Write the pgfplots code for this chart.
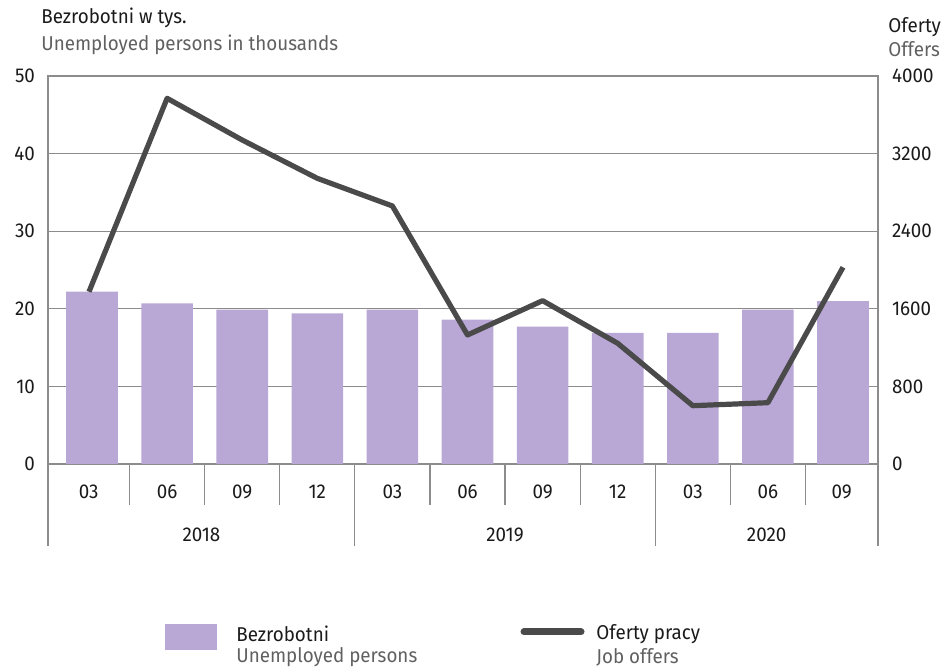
\documentclass[border=0pt]{standalone}
\usepackage{pgfplots}
\pgfplotsset{compat=1.18}
\usepackage{fontspec}
\setmainfont{Fira Sans}[FakeStretch=0.94]
\definecolor{barc}{HTML}{B9A7D5}
\definecolor{linec}{HTML}{4A4A4A}
\definecolor{axc}{HTML}{8C8C8C}
\definecolor{txt}{HTML}{1A1A1A}
\definecolor{sub}{HTML}{606060}
\begin{document}
\begin{tikzpicture}[font=\fontsize{10pt}{12pt}\selectfont, text=txt]
\useasboundingbox (-24pt,-102pt) rectangle (448pt,232pt);
\begin{axis}[
  at={(0pt,0pt)}, anchor=south west,
  scale only axis, width=415pt, height=194pt,
  xmin=-0.586, xmax=10.466, ymin=0, ymax=50,
  axis line style={axc, line width=0.6pt},
  ytick={0,10,...,50},
  ymajorgrids, grid style={axc, line width=0.6pt},
  ytick style={draw=none},
  ytick align=inside,
  yticklabel style={text=txt, xshift=-3pt},
  /pgf/number format/assume math mode=true,
  xtick={-0.586,0.5,1.5,2.5,3.5,4.5,5.5,6.5,7.5,8.5,9.5,10.466},
  x tick label as interval,
  xticklabels={03,06,09,12,03,06,09,12,03,06,09},
  xtick pos=lower,
  xtick align=outside,
  major tick length=20.5pt,
  xtick style={axc, line width=0.6pt},
  xticklabel style={anchor=center, yshift=6.5pt, text=txt},
  extra x ticks={-0.586,3.5,7.5,10.466},
  extra x tick labels={},
  extra x tick style={major tick length=41pt, xtick align=outside, xtick style={axc, line width=0.6pt}},
  clip=false,
]
\addplot[ybar, bar width=25.8pt, fill=barc, draw=none] coordinates {
 (0,22.2) (1,20.7) (2,19.9) (3,19.4) (4,19.9) (5,18.6) (6,17.7) (7,16.9) (8,16.9) (9,19.9) (10,21.0)};
\node[text=txt] at (axis cs:1.457,0) [yshift=-35.5pt] {2018};
\node[text=txt] at (axis cs:5.5,0) [yshift=-35.5pt] {2019};
\node[text=txt] at (axis cs:8.983,0) [yshift=-35.5pt] {2020};
\end{axis}
\begin{axis}[
  at={(0pt,0pt)}, anchor=south west,
  scale only axis, width=415pt, height=194pt,
  xmin=-0.586, xmax=10.466, ymin=0, ymax=4000,
  axis x line=none,
  axis y line*=right,
  axis line style={axc, line width=0.6pt},
  ytick={0,800,...,4000},
  ytick style={draw=none},
  yticklabel style={text=txt, xshift=3.5pt, /pgf/number format/1000 sep={}},
  /pgf/number format/assume math mode=true,
]
\addplot[linec, line width=2.6pt, line join=round] coordinates {
 (-0.04,1776) (1,3770) (2,3340) (3,2945) (4,2660) (5,1330) (6,1684) (7,1244) (8,601) (9,632) (10,2028)};
\end{axis}
% titles
\begin{scope}[every node/.style={inner sep=0pt, anchor=west}]
\node[text=txt] at (-3.5pt,223pt) {Bezrobotni w tys.};
\node[text=sub] at (-3.5pt,209.5pt) {Unemployed persons in thousands};
\node[text=txt] at (420pt,218.5pt) {Oferty};
\node[text=sub] at (420pt,207.5pt) {Offers};
% legend
\node[text=txt] at (94pt,-85pt) {Bezrobotni};
\node[text=sub] at (94pt,-96.5pt) {Unemployed persons};
\node[text=txt] at (274pt,-85pt) {Oferty pracy};
\node[text=sub] at (274pt,-96.5pt) {Job offers};
\end{scope}
\fill[barc] (58.5pt,-80pt) rectangle (84.5pt,-93pt);
\draw[linec, line width=3.5pt, line cap=round] (238pt,-84pt) -- (266.5pt,-84pt);
\end{tikzpicture}
\end{document}
